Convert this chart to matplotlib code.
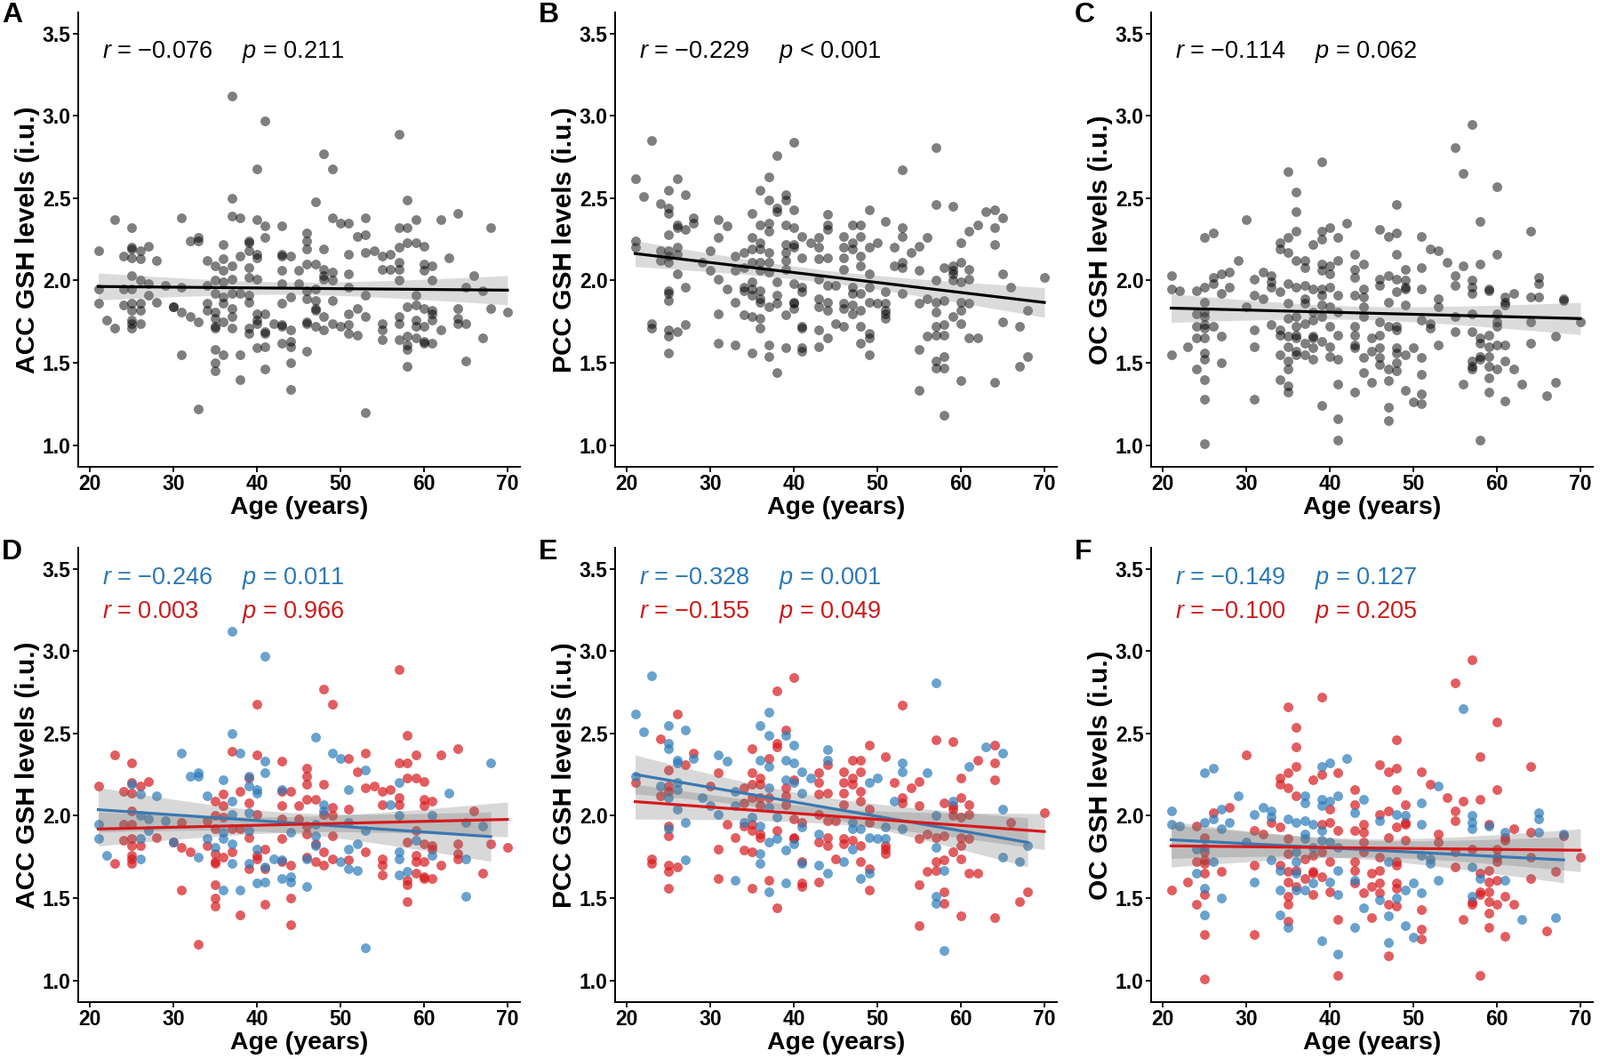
import numpy as np
import matplotlib
matplotlib.use("Agg")
import matplotlib.pyplot as plt

plt.rcParams['font.family'] = ['Liberation Sans', 'DejaVu Sans']
plt.rcParams['mathtext.fontset'] = 'custom'
plt.rcParams['mathtext.it'] = 'Liberation Sans:italic'
plt.rcParams['mathtext.rm'] = 'Liberation Sans'

# pontos: (idade, GSH, grupo)  M = azul, F = vermelho
acc_pts = [
    (37, 3.12, 'M'), (41, 2.97, 'M'), (40, 2.68, 'F'), (37, 2.50, 'M'), (23, 2.37, 'F'), (31, 2.38, 'M'),
    (37, 2.39, 'F'), (38, 2.38, 'M'), (40, 2.37, 'F'), (41, 2.33, 'M'), (25, 2.32, 'F'), (43, 2.33, 'F'),
    (41, 2.26, 'M'), (32, 2.24, 'M'), (33, 2.26, 'M'), (33, 2.24, 'M'), (21, 2.18, 'F'), (25, 2.20, 'F'),
    (25, 2.19, 'M'), (26, 2.18, 'F'), (27, 2.21, 'F'), (36, 2.22, 'M'), (39, 2.23, 'F'), (39, 2.24, 'M'),
    (24, 2.15, 'F'), (25, 2.14, 'F'), (26, 2.13, 'M'), (28, 2.12, 'M'), (34, 2.12, 'M'), (35, 2.09, 'F'),
    (36, 2.13, 'F'), (37, 2.09, 'M'), (38, 2.15, 'F'), (39, 2.18, 'M'), (40, 2.16, 'M'), (40, 2.14, 'M'),
    (43, 2.16, 'M'), (43, 2.15, 'F'), (44, 2.15, 'F'), (36, 2.06, 'F'), (39, 2.08, 'F'), (39, 2.02, 'M'),
    (40, 2.01, 'F'), (37, 2.01, 'M'), (43, 2.06, 'F'), (45, 2.06, 'F'), (25, 2.03, 'F'), (26, 2.00, 'M'),
    (27, 1.98, 'M'), (21, 1.95, 'M'), (24, 1.95, 'F'), (25, 1.95, 'F'), (29, 1.97, 'M'), (31, 1.96, 'F'),
    (34, 1.97, 'F'), (35, 2.00, 'F'), (36, 1.99, 'F'), (43, 1.98, 'F'), (45, 1.98, 'F'), (27, 1.91, 'M'),
    (21, 1.86, 'M'), (24, 1.85, 'F'), (25, 1.86, 'F'), (26, 1.86, 'M'), (28, 1.87, 'F'), (30, 1.84, 'M'),
    (30, 1.84, 'F'), (34, 1.86, 'M'), (36, 1.90, 'M'), (36, 1.86, 'M'), (38, 1.92, 'F'), (39, 1.91, 'M'),
    (39, 1.87, 'F'), (43, 1.86, 'F'), (44, 1.90, 'M'), (35, 1.92, 'F'), (37, 1.92, 'F'), (25, 1.82, 'F'),
    (26, 1.82, 'F'), (31, 1.81, 'F'), (32, 1.78, 'F'), (34, 1.82, 'F'), (35, 1.81, 'M'), (37, 1.83, 'M'),
    (35, 1.77, 'F'), (36, 1.75, 'F'), (37, 1.78, 'F'), (33, 1.75, 'M'), (22, 1.76, 'M'), (23, 1.71, 'F'),
    (25, 1.76, 'F'), (25, 1.74, 'F'), (25, 1.71, 'F'), (26, 1.74, 'M'), (35, 1.71, 'F'), (35, 1.72, 'F'),
    (37, 1.71, 'M'), (39, 1.71, 'M'), (39, 1.68, 'F'), (40, 1.76, 'F'), (40, 1.74, 'F'), (40, 1.80, 'M'),
    (41, 1.80, 'F'), (41, 1.69, 'M'), (41, 1.68, 'F'), (42, 1.74, 'M'), (43, 1.73, 'M'), (43, 1.72, 'F'),
    (44, 1.70, 'F'), (43, 1.62, 'M'), (44, 1.63, 'M'), (44, 1.60, 'M'), (40, 1.59, 'M'), (41, 1.60, 'M'),
    (35, 1.58, 'F'), (36, 1.55, 'M'), (38, 1.55, 'M'), (31, 1.55, 'F'), (35, 1.50, 'F'), (35, 1.45, 'F'),
    (41, 1.46, 'F'), (44, 1.50, 'F'), (38, 1.40, 'F'), (44, 1.34, 'F'), (33, 1.22, 'F'),
    (57, 2.89, 'F'), (48, 2.77, 'F'), (49, 2.68, 'F'), (47, 2.48, 'M'), (58, 2.49, 'F'), (64, 2.41, 'F'),
    (49, 2.38, 'M'), (50, 2.35, 'M'), (51, 2.35, 'F'), (53, 2.38, 'F'), (59, 2.37, 'F'), (62, 2.37, 'F'),
    (68, 2.32, 'M'), (46, 2.29, 'F'), (46, 2.24, 'F'), (46, 2.19, 'F'), (52, 2.27, 'F'), (53, 2.28, 'M'),
    (57, 2.32, 'F'), (58, 2.32, 'F'), (58, 2.23, 'F'), (59, 2.23, 'F'), (60, 2.21, 'F'), (48, 2.19, 'F'),
    (51, 2.16, 'M'), (53, 2.17, 'F'), (54, 2.18, 'F'), (55, 2.15, 'F'), (56, 2.16, 'F'), (57, 2.20, 'M'),
    (63, 2.14, 'M'), (46, 2.10, 'F'), (47, 2.10, 'F'), (48, 2.07, 'M'), (49, 2.05, 'F'), (51, 2.04, 'F'),
    (55, 2.07, 'F'), (56, 2.07, 'M'), (57, 2.11, 'F'), (57, 2.07, 'F'), (60, 2.10, 'F'), (60, 2.06, 'F'),
    (61, 2.09, 'F'), (48, 2.01, 'F'), (48, 2.03, 'M'), (49, 2.00, 'F'), (57, 2.00, 'M'), (61, 2.00, 'M'),
    (66, 2.03, 'F'), (65, 1.96, 'M'), (67, 1.94, 'M'), (46, 1.94, 'F'), (47, 1.95, 'M'), (51, 1.96, 'M'),
    (53, 1.91, 'M'), (46, 1.89, 'F'), (47, 1.88, 'M'), (49, 1.88, 'F'), (59, 1.91, 'F'), (47, 1.83, 'F'),
    (47, 1.82, 'M'), (58, 1.84, 'F'), (59, 1.85, 'M'), (60, 1.83, 'F'), (61, 1.82, 'F'), (61, 1.80, 'F'),
    (64, 1.83, 'F'), (68, 1.83, 'F'), (70, 1.81, 'F'), (51, 1.80, 'M'), (52, 1.83, 'M'), (48, 1.78, 'F'),
    (53, 1.78, 'F'), (57, 1.78, 'M'), (57, 1.74, 'M'), (59, 1.76, 'F'), (59, 1.72, 'F'), (61, 1.76, 'M'),
    (64, 1.77, 'F'), (64, 1.74, 'F'), (65, 1.74, 'M'), (46, 1.75, 'F'), (46, 1.74, 'M'), (47, 1.72, 'F'),
    (48, 1.70, 'F'), (49, 1.74, 'F'), (50, 1.72, 'M'), (51, 1.73, 'F'), (51, 1.68, 'M'), (52, 1.67, 'M'),
    (55, 1.74, 'F'), (55, 1.70, 'F'), (55, 1.64, 'F'), (60, 1.72, 'F'), (62, 1.70, 'F'), (57, 1.64, 'M'),
    (58, 1.66, 'M'), (58, 1.61, 'F'), (58, 1.58, 'F'), (59, 1.65, 'F'), (60, 1.63, 'F'), (60, 1.62, 'F'),
    (61, 1.62, 'F'), (67, 1.65, 'F'), (46, 1.57, 'M'), (65, 1.51, 'M'), (58, 1.48, 'F'), (53, 1.20, 'M'),
]

pcc_pts = [
    (23, 2.85, 'M'), (40, 2.84, 'F'), (38, 2.76, 'F'), (21, 2.62, 'M'), (26, 2.62, 'F'), (37, 2.63, 'M'),
    (22, 2.51, 'M'), (25, 2.55, 'M'), (27, 2.52, 'M'), (36, 2.55, 'M'), (37, 2.49, 'M'), (39, 2.52, 'F'),
    (39, 2.49, 'M'), (24, 2.47, 'F'), (25, 2.44, 'M'), (25, 2.41, 'M'), (38, 2.44, 'F'), (38, 2.42, 'F'),
    (40, 2.43, 'M'), (35, 2.41, 'F'), (28, 2.38, 'F'), (28, 2.35, 'M'), (26, 2.34, 'M'), (26, 2.32, 'M'),
    (27, 2.31, 'F'), (31, 2.37, 'M'), (32, 2.33, 'M'), (36, 2.34, 'M'), (37, 2.35, 'F'), (37, 2.30, 'M'),
    (39, 2.34, 'M'), (40, 2.32, 'M'), (44, 2.40, 'M'), (44, 2.34, 'M'), (44, 2.31, 'F'), (41, 2.27, 'M'),
    (42, 2.23, 'M'), (43, 2.26, 'F'), (43, 2.20, 'F'), (44, 2.14, 'F'), (25, 2.28, 'F'), (21, 2.24, 'M'),
    (21, 2.20, 'F'), (31, 2.26, 'F'), (30, 2.18, 'F'), (24, 2.18, 'M'), (25, 2.18, 'F'), (26, 2.20, 'M'),
    (34, 2.17, 'F'), (35, 2.26, 'F'), (35, 2.19, 'F'), (36, 2.23, 'F'), (36, 2.19, 'F'), (39, 2.22, 'M'),
    (40, 2.22, 'F'), (40, 2.20, 'M'), (39, 2.17, 'F'), (37, 2.17, 'M'), (41, 2.14, 'M'), (25, 2.15, 'F'),
    (26, 2.16, 'M'), (24, 2.12, 'F'), (25, 2.11, 'M'), (29, 2.11, 'M'), (33, 2.15, 'M'), (34, 2.08, 'F'),
    (35, 2.11, 'F'), (36, 2.11, 'F'), (37, 2.11, 'F'), (39, 2.12, 'F'), (39, 2.07, 'F'), (43, 2.13, 'F'),
    (30, 2.06, 'M'), (33, 2.06, 'M'), (36, 2.06, 'F'), (37, 2.05, 'M'), (26, 2.04, 'M'), (31, 2.01, 'M'),
    (35, 1.99, 'M'), (38, 1.99, 'M'), (40, 1.98, 'F'), (41, 1.96, 'F'), (43, 2.01, 'F'), (44, 1.97, 'F'),
    (45, 1.97, 'F'), (27, 1.96, 'M'), (32, 1.95, 'F'), (34, 1.96, 'M'), (34, 1.94, 'F'), (35, 1.95, 'F'),
    (36, 1.94, 'M'), (41, 1.93, 'M'), (25, 1.94, 'F'), (25, 1.92, 'M'), (25, 1.88, 'F'), (35, 1.91, 'F'),
    (36, 1.89, 'F'), (36, 1.87, 'F'), (38, 1.91, 'F'), (43, 1.89, 'M'), (33, 1.87, 'F'), (40, 1.87, 'F'),
    (40, 1.86, 'F'), (40, 1.83, 'M'), (37, 1.84, 'M'), (38, 1.86, 'M'), (43, 1.84, 'F'), (44, 1.87, 'F'),
    (44, 1.82, 'F'), (31, 1.80, 'F'), (34, 1.79, 'F'), (35, 1.78, 'F'), (36, 1.77, 'M'), (39, 1.79, 'M'),
    (45, 1.74, 'F'), (23, 1.74, 'F'), (23, 1.71, 'F'), (27, 1.73, 'M'), (25, 1.70, 'F'), (25, 1.66, 'F'),
    (26, 1.69, 'F'), (36, 1.71, 'M'), (41, 1.71, 'M'), (41, 1.72, 'F'), (43, 1.70, 'M'), (44, 1.65, 'M'),
    (31, 1.62, 'F'), (33, 1.61, 'M'), (37, 1.61, 'F'), (39, 1.59, 'M'), (41, 1.59, 'F'), (41, 1.57, 'F'),
    (43, 1.60, 'F'), (25, 1.56, 'F'), (35, 1.56, 'F'), (37, 1.54, 'M'), (38, 1.44, 'F'),
    (57, 2.81, 'M'), (53, 2.67, 'F'), (57, 2.46, 'F'), (59, 2.45, 'F'), (49, 2.43, 'F'), (63, 2.42, 'M'),
    (64, 2.43, 'F'), (65, 2.38, 'M'), (47, 2.34, 'F'), (48, 2.34, 'F'), (51, 2.36, 'F'), (53, 2.32, 'M'),
    (53, 2.27, 'M'), (62, 2.34, 'F'), (61, 2.30, 'M'), (64, 2.32, 'F'), (46, 2.27, 'F'), (48, 2.27, 'F'),
    (47, 2.23, 'F'), (47, 2.19, 'F'), (49, 2.20, 'M'), (50, 2.23, 'M'), (52, 2.20, 'F'), (56, 2.26, 'M'),
    (55, 2.21, 'F'), (54, 2.17, 'F'), (60, 2.23, 'F'), (64, 2.22, 'F'), (46, 2.20, 'F'), (46, 2.14, 'F'),
    (48, 2.15, 'F'), (48, 2.09, 'F'), (53, 2.11, 'F'), (53, 2.08, 'F'), (52, 2.09, 'M'), (55, 2.06, 'F'),
    (58, 2.08, 'F'), (59, 2.09, 'M'), (59, 2.06, 'F'), (59, 2.04, 'F'), (60, 2.11, 'F'), (61, 2.07, 'F'),
    (46, 2.07, 'F'), (49, 2.04, 'F'), (65, 2.04, 'M'), (70, 2.02, 'F'), (47, 1.96, 'M'), (47, 1.92, 'M'),
    (48, 1.92, 'M'), (49, 1.96, 'F'), (51, 1.93, 'M'), (53, 1.92, 'M'), (57, 2.00, 'M'), (59, 2.00, 'F'),
    (60, 1.99, 'F'), (61, 2.01, 'F'), (66, 1.96, 'F'), (49, 1.87, 'M'), (50, 1.86, 'M'), (51, 1.86, 'M'),
    (51, 1.82, 'F'), (51, 1.80, 'F'), (51, 1.77, 'F'), (55, 1.86, 'F'), (56, 1.89, 'F'), (57, 1.87, 'F'),
    (58, 1.88, 'F'), (60, 1.87, 'F'), (60, 1.82, 'F'), (61, 1.86, 'F'), (68, 1.82, 'M'), (46, 1.86, 'F'),
    (46, 1.83, 'F'), (47, 1.85, 'F'), (48, 1.82, 'F'), (47, 1.80, 'M'), (57, 1.81, 'M'), (46, 1.72, 'M'),
    (48, 1.72, 'F'), (59, 1.78, 'F'), (60, 1.74, 'F'), (65, 1.75, 'M'), (67, 1.72, 'M'), (57, 1.72, 'F'),
    (58, 1.73, 'F'), (49, 1.68, 'F'), (49, 1.65, 'M'), (48, 1.62, 'M'), (56, 1.66, 'F'), (57, 1.67, 'F'),
    (58, 1.67, 'M'), (61, 1.65, 'F'), (62, 1.65, 'F'), (49, 1.55, 'F'), (55, 1.58, 'F'), (58, 1.54, 'F'),
    (57, 1.51, 'M'), (57, 1.47, 'M'), (58, 1.47, 'F'), (67, 1.48, 'F'), (68, 1.54, 'F'), (60, 1.39, 'F'),
    (64, 1.38, 'F'), (55, 1.33, 'F'), (58, 1.18, 'M'),
]

oc_pts = [
    (39, 2.72, 'F'), (35, 2.66, 'F'), (36, 2.54, 'F'), (36, 2.42, 'F'), (30, 2.37, 'F'), (42, 2.35, 'M'),
    (39, 2.30, 'M'), (40, 2.32, 'M'), (39, 2.25, 'F'), (41, 2.26, 'F'), (36, 2.30, 'F'), (25, 2.26, 'M'),
    (26, 2.29, 'M'), (34, 2.23, 'F'), (35, 2.26, 'F'), (34, 2.19, 'F'), (35, 2.17, 'F'), (38, 2.22, 'F'),
    (43, 2.16, 'F'), (36, 2.12, 'F'), (29, 2.12, 'M'), (37, 2.12, 'M'), (37, 2.08, 'M'), (39, 2.10, 'M'),
    (39, 2.06, 'M'), (40, 2.09, 'M'), (41, 2.12, 'M'), (44, 2.10, 'M'), (43, 2.07, 'F'), (40, 2.04, 'F'),
    (43, 2.02, 'M'), (28, 2.05, 'F'), (27, 2.04, 'M'), (32, 2.05, 'M'), (33, 2.03, 'M'), (31, 2.01, 'M'),
    (26, 2.02, 'F'), (26, 1.98, 'M'), (21, 2.03, 'M'), (21, 1.95, 'M'), (22, 1.94, 'M'), (24, 1.94, 'F'),
    (25, 1.96, 'M'), (28, 1.96, 'M'), (27, 1.92, 'M'), (31, 1.91, 'F'), (32, 1.89, 'F'), (33, 1.96, 'F'),
    (33, 1.99, 'M'), (34, 1.93, 'F'), (35, 1.98, 'M'), (36, 1.96, 'M'), (37, 1.97, 'M'), (38, 1.95, 'M'),
    (39, 1.95, 'F'), (39, 1.91, 'M'), (40, 1.96, 'F'), (41, 1.91, 'F'), (44, 1.95, 'F'), (44, 1.90, 'F'),
    (37, 1.89, 'M'), (37, 1.86, 'M'), (35, 1.86, 'F'), (25, 1.87, 'F'), (43, 1.91, 'F'), (40, 1.84, 'M'),
    (44, 1.84, 'F'), (39, 1.85, 'M'), (30, 1.84, 'M'), (24, 1.80, 'M'), (25, 1.81, 'M'), (25, 1.78, 'F'),
    (38, 1.81, 'M'), (41, 1.81, 'M'), (35, 1.77, 'F'), (36, 1.78, 'M'), (38, 1.76, 'F'), (39, 1.78, 'F'),
    (44, 1.78, 'F'), (33, 1.73, 'M'), (24, 1.72, 'F'), (25, 1.73, 'F'), (25, 1.71, 'F'), (26, 1.72, 'M'),
    (37, 1.74, 'F'), (36, 1.72, 'M'), (40, 1.72, 'F'), (43, 1.72, 'F'), (34, 1.67, 'M'), (31, 1.70, 'F'),
    (34, 1.70, 'F'), (35, 1.66, 'F'), (36, 1.67, 'F'), (36, 1.65, 'M'), (38, 1.66, 'F'), (38, 1.65, 'F'),
    (41, 1.67, 'M'), (43, 1.67, 'F'), (45, 1.65, 'F'), (27, 1.66, 'F'), (24, 1.65, 'M'), (25, 1.65, 'F'),
    (23, 1.60, 'F'), (31, 1.60, 'M'), (35, 1.60, 'F'), (37, 1.62, 'F'), (39, 1.63, 'F'), (40, 1.60, 'M'),
    (43, 1.61, 'M'), (43, 1.59, 'F'), (45, 1.57, 'F'), (21, 1.55, 'F'), (25, 1.56, 'M'), (34, 1.55, 'M'),
    (36, 1.57, 'F'), (37, 1.55, 'M'), (38, 1.59, 'M'), (38, 1.52, 'F'), (40, 1.54, 'F'), (41, 1.52, 'M'),
    (44, 1.53, 'F'), (36, 1.55, 'M'), (25, 1.52, 'F'), (27, 1.50, 'M'), (24, 1.46, 'F'), (35, 1.51, 'F'),
    (35, 1.46, 'F'), (35, 1.36, 'F'), (35, 1.32, 'M'), (34, 1.40, 'M'), (25, 1.40, 'M'), (44, 1.44, 'M'),
    (45, 1.38, 'F'), (41, 1.37, 'F'), (43, 1.32, 'M'), (25, 1.28, 'F'), (31, 1.28, 'F'), (39, 1.24, 'M'),
    (41, 1.16, 'M'), (41, 1.03, 'F'), (25, 1.01, 'F'),
    (57, 2.95, 'F'), (55, 2.81, 'F'), (56, 2.65, 'M'), (60, 2.57, 'F'), (48, 2.46, 'F'), (58, 2.36, 'F'),
    (64, 2.30, 'F'), (46, 2.31, 'F'), (47, 2.27, 'F'), (48, 2.29, 'F'), (51, 2.27, 'F'), (52, 2.19, 'F'),
    (53, 2.18, 'M'), (48, 2.16, 'F'), (60, 2.16, 'F'), (54, 2.11, 'F'), (56, 2.09, 'F'), (58, 2.10, 'F'),
    (51, 2.08, 'M'), (49, 2.07, 'F'), (46, 2.01, 'F'), (46, 1.97, 'M'), (47, 2.03, 'F'), (48, 2.01, 'M'),
    (49, 2.00, 'M'), (49, 1.96, 'F'), (49, 1.95, 'F'), (48, 1.93, 'F'), (51, 1.95, 'M'), (55, 2.03, 'F'),
    (55, 1.97, 'F'), (57, 2.00, 'M'), (57, 1.96, 'M'), (57, 1.92, 'M'), (59, 1.94, 'M'), (59, 1.95, 'F'),
    (65, 2.02, 'M'), (65, 1.98, 'M'), (65, 1.90, 'M'), (62, 1.92, 'F'), (61, 1.90, 'M'), (61, 1.87, 'F'),
    (61, 1.85, 'F'), (64, 1.90, 'F'), (68, 1.89, 'M'), (68, 1.88, 'F'), (47, 1.87, 'F'), (49, 1.85, 'F'),
    (53, 1.89, 'F'), (53, 1.84, 'F'), (57, 1.80, 'F'), (55, 1.78, 'F'), (60, 1.80, 'F'), (46, 1.75, 'F'),
    (47, 1.72, 'M'), (48, 1.72, 'F'), (48, 1.70, 'F'), (51, 1.76, 'M'), (52, 1.74, 'M'), (52, 1.71, 'M'),
    (60, 1.75, 'F'), (60, 1.72, 'F'), (64, 1.75, 'F'), (55, 1.69, 'F'), (57, 1.69, 'M'), (70, 1.75, 'F'),
    (67, 1.66, 'F'), (46, 1.67, 'F'), (46, 1.59, 'F'), (46, 1.53, 'F'), (46, 1.49, 'M'), (48, 1.59, 'F'),
    (48, 1.56, 'F'), (48, 1.50, 'M'), (48, 1.45, 'F'), (49, 1.55, 'M'), (50, 1.59, 'M'), (51, 1.53, 'M'),
    (51, 1.43, 'F'), (47, 1.46, 'F'), (47, 1.39, 'M'), (53, 1.61, 'M'), (58, 1.65, 'F'), (58, 1.62, 'M'),
    (59, 1.67, 'F'), (59, 1.60, 'F'), (60, 1.61, 'F'), (61, 1.61, 'M'), (64, 1.62, 'F'), (57, 1.48, 'F'),
    (57, 1.46, 'F'), (57, 1.51, 'M'), (58, 1.54, 'F'), (58, 1.52, 'F'), (59, 1.54, 'F'), (59, 1.48, 'F'),
    (60, 1.46, 'F'), (61, 1.51, 'F'), (62, 1.46, 'F'), (59, 1.41, 'F'), (63, 1.37, 'M'), (67, 1.38, 'M'),
    (56, 1.37, 'F'), (49, 1.33, 'M'), (59, 1.32, 'F'), (51, 1.31, 'F'), (51, 1.25, 'F'), (50, 1.26, 'M'),
    (61, 1.27, 'F'), (66, 1.30, 'F'), (47, 1.23, 'M'), (47, 1.15, 'F'), (58, 1.03, 'F'),
]

regions = ["ACC", "PCC", "OC"]
pts_list = [acc_pts, pcc_pts, oc_pts]

# estatisticas que aparecem escritas nos paineis
stat_all = [("\u22120.076", "= 0.211"), ("\u22120.229", "< 0.001"), ("\u22120.114", "= 0.062")]
stat_m = [("\u22120.246", "= 0.011"), ("\u22120.328", "= 0.001"), ("\u22120.149", "= 0.127")]
stat_f = [("0.003", "= 0.966"), ("\u22120.155", "= 0.049"), ("\u22120.100", "= 0.205")]
letters_top = ["A", "B", "C"]
letters_bot = ["D", "E", "F"]

BLUE = "#2b7bba"
RED = "#d7191c"
BLUE_TXT = "#2a78b6"
RED_TXT = "#cc1a1a"


def fit_line(x, y):
    # regressao linear + banda de 95% calculada na mao
    x = np.asarray(x, float)
    y = np.asarray(y, float)
    n = len(x)
    b, a = np.polyfit(x, y, 1)
    xs = np.linspace(x.min(), x.max(), 100)
    ys = a + b * xs
    res = y - (a + b * x)
    s = np.sqrt(np.sum(res ** 2) / (n - 2))
    se = s * np.sqrt(1.0 / n + (xs - x.mean()) ** 2 / np.sum((x - x.mean()) ** 2))
    return xs, ys, 1.97 * se


def style_ax(ax, region):
    ax.set_xlim(18.6, 71.5)
    ax.set_ylim(0.868, 3.629)
    ax.set_xticks([20, 30, 40, 50, 60, 70])
    ax.set_yticks([1.0, 1.5, 2.0, 2.5, 3.0, 3.5])
    ax.set_yticklabels(["%.1f" % v for v in [1.0, 1.5, 2.0, 2.5, 3.0, 3.5]])
    for sp in ["top", "right"]:
        ax.spines[sp].set_visible(False)
    for sp in ["left", "bottom"]:
        ax.spines[sp].set_linewidth(1.4)
    ax.tick_params(direction="out", length=4, width=1.3, labelsize=16.5, pad=2)
    for lab in ax.get_xticklabels() + ax.get_yticklabels():
        lab.set_fontweight("bold")
    ax.set_xlabel("Age (years)", fontsize=20.5, fontweight="bold", labelpad=1)
    ax.set_ylabel(region + " GSH levels (i.u.)", fontsize=21.5, fontweight="bold", labelpad=2)


fig = plt.figure(figsize=(18, 11.91), dpi=100)
W, H = 1800.0, 1191.0
lefts = [88, 692, 1295]
tops = [14, 616]
aw, ah = 497, 511

for i in range(3):
    age = np.array([p[0] for p in pts_list[i]], float)
    gsh = np.array([p[1] for p in pts_list[i]], float)
    grp = np.array([p[2] for p in pts_list[i]])

    # linha de cima: todos juntos em cinza
    ax = fig.add_axes([lefts[i] / W, 1 - (tops[0] + ah) / H, aw / W, ah / H])
    ax.scatter(age, gsh, s=62, color="black", alpha=0.5, linewidths=0, zorder=2)
    xs, ys, ci = fit_line(age, gsh)
    ax.fill_between(xs, ys - ci, ys + ci, color="0.5", alpha=0.28, linewidth=0, zorder=3)
    ax.plot(xs, ys, color="black", lw=2.3, zorder=4)
    style_ax(ax, regions[i])
    ax.text(21.5, 3.354, "$r$ = " + stat_all[i][0], fontsize=19.5, va="baseline")
    ax.text(38.2, 3.354, "$p$ " + stat_all[i][1], fontsize=19.5, va="baseline")
    fig.text((lefts[i] - 86) / W, 1 - 2 / H, letters_top[i], fontsize=23, fontweight="bold", va="top")

    # linha de baixo: separado por grupo
    ax = fig.add_axes([lefts[i] / W, 1 - (tops[1] + ah) / H, aw / W, ah / H])
    for g, col in [("F", RED), ("M", BLUE)]:
        m = grp == g
        ax.scatter(age[m], gsh[m], s=62, color=col, alpha=0.7, linewidths=0, zorder=2)
    for g, col in [("M", BLUE), ("F", RED)]:
        m = grp == g
        xs, ys, ci = fit_line(age[m], gsh[m])
        ax.fill_between(xs, ys - ci, ys + ci, color="0.45", alpha=0.28, linewidth=0, zorder=3)
    for g, col in [("M", "#3a78b0"), ("F", RED)]:
        m = grp == g
        xs, ys, ci = fit_line(age[m], gsh[m])
        ax.plot(xs, ys, color=col, lw=2.3, zorder=4)
    style_ax(ax, regions[i])
    ax.text(21.5, 3.407, "$r$ = " + stat_m[i][0], fontsize=19.5, va="baseline", color=BLUE_TXT)
    ax.text(38.2, 3.407, "$p$ " + stat_m[i][1], fontsize=19.5, va="baseline", color=BLUE_TXT)
    ax.text(21.5, 3.20, "$r$ = " + stat_f[i][0], fontsize=19.5, va="baseline", color=RED_TXT)
    ax.text(38.2, 3.20, "$p$ " + stat_f[i][1], fontsize=19.5, va="baseline", color=RED_TXT)
    fig.text((lefts[i] - 86) / W, 1 - (tops[1] - 10) / H, letters_bot[i], fontsize=23, fontweight="bold", va="top")

fig.savefig("out.png", dpi=100)
